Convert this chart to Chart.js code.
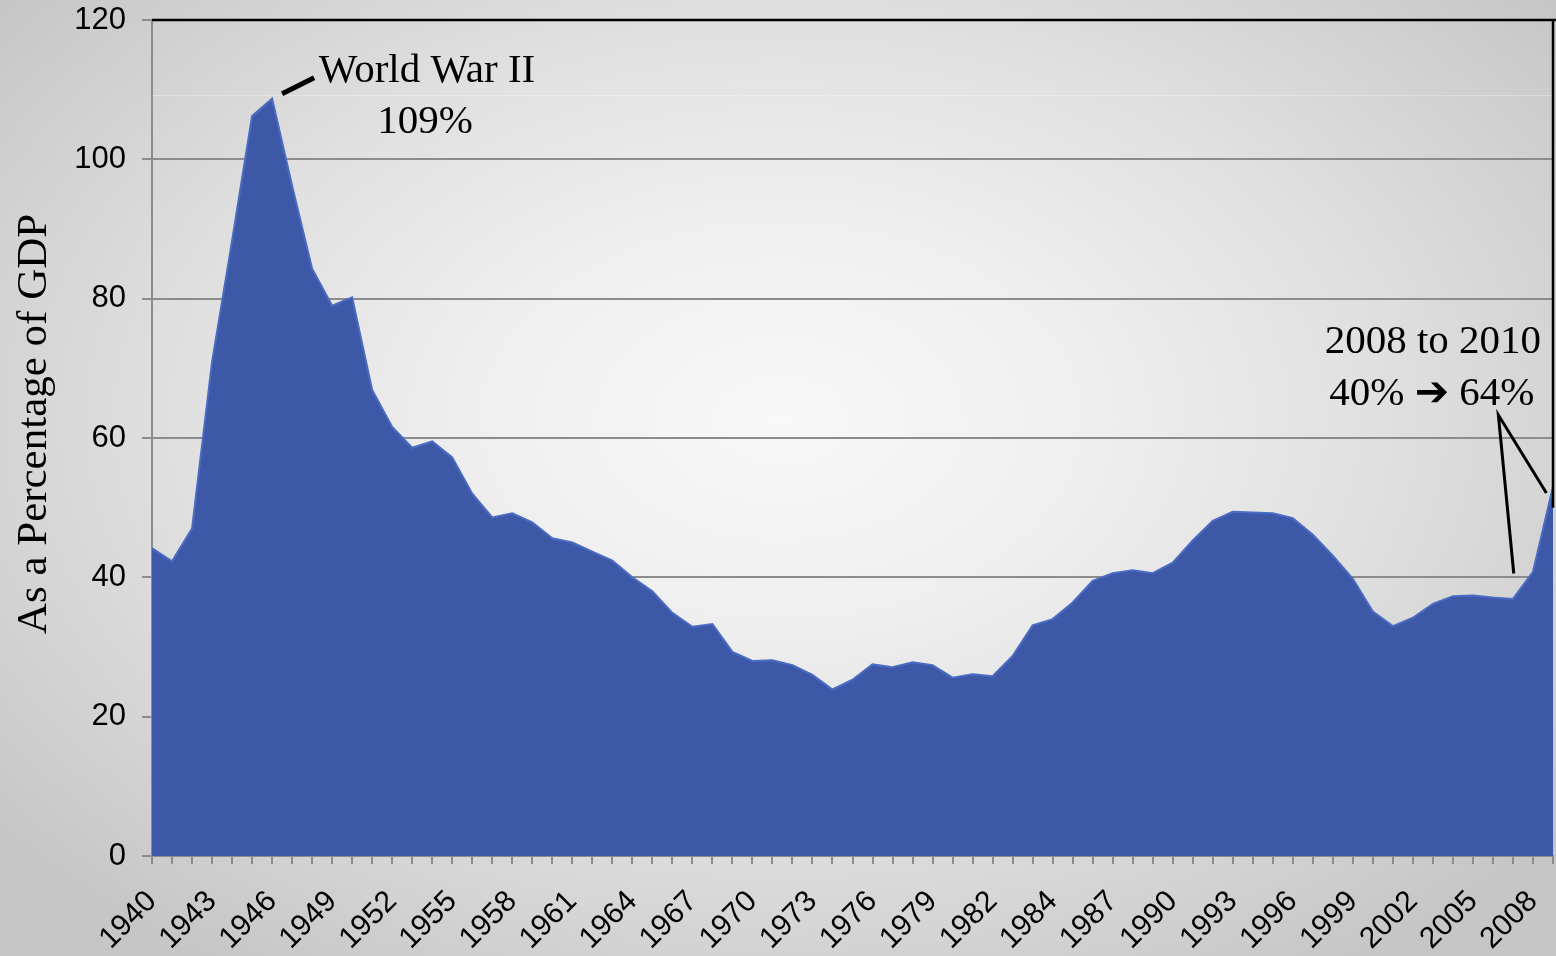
<!DOCTYPE html>
<html><head><meta charset="utf-8">
<script src="https://cdn.jsdelivr.net/npm/chart.js@4.4.0/dist/chart.umd.min.js"></script>
<style>html,body{margin:0;padding:0;background:#d0d0d0;overflow:hidden}#wrap{width:1556px;height:956px}</style>
</head><body><div id="wrap"><canvas id="c" width="1556" height="956"></canvas></div>
<script>
// ---- data ----
const categories = [
  '1940','1941','1942','1943','1944','1945','1946','1947','1948','1949',
  '1950','1951','1952','1953','1954','1955','1956','1957','1958','1959',
  '1960','1961','1962','1963','1964','1965','1966','1967','1968','1969',
  '1970','1971','1972','1973','1974','1975','1976','1977','1978','1979',
  '1980','1981','1982','TQ','1983','1984','1985','1986','1987','1988',
  '1989','1990','1991','1992','1993','1994','1995','1996','1997','1998',
  '1999','2000','2001','2002','2003','2004','2005','2006','2007','2008','2009'
];
const debtPct = [
  44.2, 42.3, 47.0, 70.9, 88.3, 106.2, 108.7, 96.2, 84.3, 79.0,
  80.2, 66.9, 61.6, 58.6, 59.5, 57.2, 52.0, 48.6, 49.2, 47.9,
  45.6, 45.0, 43.7, 42.4, 40.0, 38.0, 34.9, 32.9, 33.3, 29.3,
  28.0, 28.1, 27.4, 26.0, 23.9, 25.3, 27.5, 27.1, 27.8, 27.4,
  25.6, 26.1, 25.8, 28.7, 33.1, 34.0, 36.4, 39.5, 40.6, 41.0,
  40.6, 42.1, 45.3, 48.1, 49.4, 49.3, 49.2, 48.5, 46.1, 43.1,
  39.8, 35.1, 33.0, 34.2, 36.2, 37.3, 37.4, 37.1, 36.9, 40.8, 53.0
];
const yTickValues = [0, 20, 40, 60, 80, 100, 120];
const labelStep = 3;
const yTitle = 'As a Percentage of GDP';
const noteWW2 = ['World War II', '109%'];
const noteRecent = ['2008 to 2010', '40% \u2794 64%'];

// ---- styling ----
const SANS = '"Liberation Sans", Arial, sans-serif';
const SERIF = '"Liberation Serif", "Times New Roman", "DejaVu Sans", serif';
const GRID = '#8c8c8c';

const bgPlugin = {
  id: 'bg',
  beforeDraw(chart) {
    const {ctx, width, height} = chart;
    ctx.save();
    const cx = 780, cy = 420, rx = 1000, ry = 660;
    ctx.translate(cx, cy);
    ctx.scale(1, ry / rx);
    const g = ctx.createRadialGradient(0, 0, 0, 0, 0, rx);
    g.addColorStop(0, '#f8f8f8');
    g.addColorStop(0.3, '#efefef');
    g.addColorStop(0.6, '#e0e0e0');
    g.addColorStop(0.85, '#d0d0d0');
    g.addColorStop(1, '#c6c6c6');
    ctx.fillStyle = g;
    ctx.fillRect(-cx, -cy * rx / ry, width, height * rx / ry);
    ctx.restore();
  },
  beforeDatasetsDraw(chart) {
    const {ctx, chartArea: a, scales: {y}} = chart;
    ctx.save();
    ctx.strokeStyle = 'rgba(255,255,255,0.3)';
    ctx.lineWidth = 1;
    const yy = Math.round(y.getPixelForValue(109.3)) + 0.5;
    ctx.beginPath(); ctx.moveTo(a.left, yy); ctx.lineTo(a.right, yy); ctx.stroke();
    ctx.restore();
  },
  afterDatasetsDraw(chart) {
    const {ctx, chartArea: a, scales: {x, y}} = chart;
    ctx.save();
    ctx.strokeStyle = '#000';
    ctx.lineWidth = 2.5;
    ctx.beginPath();
    ctx.moveTo(a.left, a.top); ctx.lineTo(a.right + 3, a.top);
    ctx.moveTo(a.right, a.top); ctx.lineTo(a.right, y.getPixelForValue(50));
    ctx.stroke();

    // y axis title
    ctx.fillStyle = '#000';
    ctx.font = '43px ' + SERIF;
    ctx.textAlign = 'center';
    ctx.textBaseline = 'alphabetic';
    ctx.save();
    ctx.translate(46, 424);
    ctx.rotate(-Math.PI / 2);
    ctx.fillText(yTitle, 0, 0);
    ctx.restore();

    // annotations
    const P = (xi, yv) => [x.getPixelForValue(xi), y.getPixelForValue(yv)];
    ctx.font = '41px ' + SERIF;
    let p = P(13.74, 111.1); ctx.fillText(noteWW2[0], p[0], p[1]);
    p = P(13.64, 103.8); ctx.fillText(noteWW2[1], p[0], p[1]);
    p = P(64.0, 72.2); ctx.fillText(noteRecent[0], p[0], p[1]);
    p = P(63.95, 64.7); ctx.fillText(noteRecent[1], p[0], p[1]);

    ctx.lineCap = 'butt';
    ctx.lineWidth = 5;
    ctx.beginPath();
    p = P(6.5, 109.4); ctx.moveTo(p[0], p[1]);
    p = P(8.1, 111.7); ctx.lineTo(p[0], p[1]);
    ctx.stroke();

    ctx.lineWidth = 3;
    ctx.beginPath();
    p = P(68.04, 40.55); ctx.moveTo(p[0], p[1]);
    p = P(67.27, 63.3); ctx.lineTo(p[0], p[1]);
    p = P(69.67, 52.1); ctx.lineTo(p[0], p[1]);
    ctx.stroke();
    ctx.restore();
  }
};

new Chart(document.getElementById('c'), {
  type: 'line',
  data: {
    labels: categories,
    datasets: [{
      data: debtPct,
      fill: 'origin',
      backgroundColor: '#3D58A7',
      borderColor: '#4B6CC3',
      borderWidth: 2,
      pointRadius: 0,
      tension: 0
    }]
  },
  options: {
    responsive: false,
    animation: false,
    events: [],
    layout: {padding: {top: 20, right: 3, left: 0, bottom: 0}},
    plugins: {legend: {display: false}, tooltip: {enabled: false}},
    scales: {
      x: {
        type: 'category',
        offset: false,
        grid: {drawOnChartArea: false, drawTicks: true, tickLength: 8, color: GRID, lineWidth: 2},
        border: {color: GRID, width: 2},
        ticks: {
          autoSkip: false, maxRotation: 45, minRotation: 45,
          font: {family: SANS, size: 30}, color: '#000', padding: 20,
          callback: (v, i) => (i % labelStep === 0 ? categories[i] : '')
        },
        afterFit(s) { s.height = 100; s.paddingLeft = 0; s.paddingRight = 0; }
      },
      y: {
        min: 0, max: 120,
        afterBuildTicks(s) { s.ticks = yTickValues.map(v => ({value: v})); },
        grid: {color: GRID, lineWidth: 2, drawTicks: true, tickLength: 10},
        border: {color: GRID, width: 2},
        ticks: {font: {family: SANS, size: 31}, color: '#000', padding: 16},
        afterFit(s) { s.width = 152; s.paddingTop = 0; s.paddingBottom = 0; }
      }
    }
  },
  plugins: [bgPlugin]
});
</script>
</body></html>
